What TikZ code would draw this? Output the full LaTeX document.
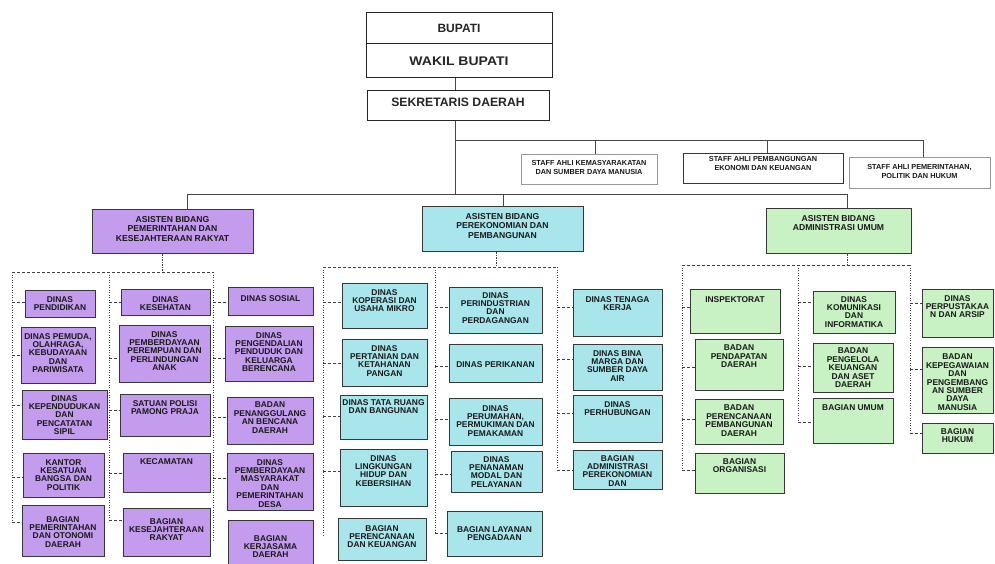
\documentclass[tikz,border=0pt]{standalone}
\usepackage{fontspec}
\setmainfont{Liberation Sans}
\newfontfamily\widefont[FakeStretch=1.12]{Liberation Sans}
\definecolor{purp}{RGB}{196,156,238}
\definecolor{cyn}{RGB}{168,230,236}
\definecolor{grn}{RGB}{200,242,196}
\definecolor{boxline}{RGB}{55,55,55}
\definecolor{treeline}{RGB}{70,70,70}
\tikzset{
  box/.style={draw=boxline, line width=1.2pt, inner sep=0pt, anchor=north west},
  pb/.style={box, fill=purp},
  cb/.style={box, fill=cyn},
  gb/.style={box, fill=grn},
  sboxl/.style={box, draw=black!40, fill=white, line width=0.9pt},
  sboxd/.style={box, draw=boxline, fill=white, line width=1pt},
  topbox/.style={draw=black!85, line width=1.4pt, fill=white, inner sep=0pt, anchor=north west},
  btext/.style={font=\bfseries\fontsize{8.4}{8.4}\selectfont, align=center, inner sep=0pt, anchor=north, text=black!90},
  atext/.style={font=\bfseries\fontsize{8.6}{9.6}\selectfont, align=center, inner sep=0pt, anchor=north, text=black!90},
  stext/.style={font=\bfseries\fontsize{7.3}{9.3}\selectfont, align=center, inner sep=0pt, anchor=north, text=black!90},
  tree/.style={draw=treeline, line width=0.9pt},
  grp/.style={draw=black!75, line width=0.8pt, dash pattern=on 3pt off 2pt},
  vgrp/.style={draw=black!75, line width=0.8pt, dash pattern=on 1.3pt off 1.2pt}
}
\newcommand\bx[9][btext]{%
  \node[#3, minimum width={(#6-#4)*1pt}, minimum height={(#7-#5)*1pt}] (#2) at (#4,#5) {};
  \node[#1] (#2t) at ({(#4+#6)/2},#8) {#9};
}
\newcommand\stub[3]{%
  \coordinate (#2y) at (0,#3);
  \coordinate (#2s) at (#2.west |- #2y);
  \draw[grp] (#1 |- #2s) -- (#2s);
}
\begin{document}
\begin{tikzpicture}[x=1pt,y=-1pt]
\useasboundingbox (0,0) rectangle (995,564);
\fill[white] (0,0) rectangle (995,564);

% top
\node[topbox, minimum width=186pt, minimum height=31pt] (bupati) at (366,12) {};
\node[font=\bfseries\fontsize{12}{12}\selectfont, text=black!85] (bupatit) at (459,28) {BUPATI};
\node[topbox, minimum width=186pt, minimum height=34pt] (wakil) at (366,43) {};
\node[font=\widefont\bfseries\fontsize{12.5}{12.5}\selectfont, text=black!85] (wakilt) at (459,61) {WAKIL BUPATI};
\node[topbox, minimum width=182pt, minimum height=30pt] (sek) at (367,90) {};
\node[font=\bfseries\fontsize{12.2}{12.2}\selectfont, text=black!85] (sekt) at (458,102) {SEKRETARIS DAERAH};

% staff ahli
\bx[stext]{st1}{sboxl}{521}{154}{657}{184}{160}{STAFF AHLI KEMASYARAKATAN\\DAN SUMBER DAYA MANUSIA}
\bx[stext]{st2}{sboxd}{683}{153}{843}{183}{156}{STAFF AHLI PEMBANGUNGAN\\EKONOMI DAN KEUANGAN}
\bx[stext]{st3}{sboxl}{849}{157}{990}{188}{164}{STAFF AHLI PEMERINTAHAN,\\POLITIK DAN HUKUM}

% asisten
\bx[atext]{ap}{pb}{92}{209}{253}{253}{216}{ASISTEN BIDANG\\PEMERINTAHAN DAN\\KESEJAHTERAAN RAKYAT}
\bx[atext]{ac}{cb}{422}{206}{583}{251}{213}{ASISTEN BIDANG\\PEREKONOMIAN DAN\\PEMBANGUNAN}
\bx[atext]{ag}{gb}{766}{208}{911}{253}{215}{ASISTEN BIDANG\\ADMINISTRASI UMUM}

% solid tree
\coordinate (k0) at (455,194);
\coordinate (s1) at (595,140);
\coordinate (s2) at (767,140);
\coordinate (s3) at (923,140);
\coordinate (a1) at (187,194);
\coordinate (a2) at (503,194);
\coordinate (a3) at (847,194);
\draw[tree] (wakil.south -| k0) -- (sek.north -| k0);
\draw[tree] (sek.south -| k0) -- (k0);
\draw[tree] (k0 |- s3) -- (s3) -- (st3.north -| s3);
\draw[tree] (s1) -- (st1.north -| s1);
\draw[tree] (s2) -- (st2.north -| s2);
\draw[tree] (a1) -- (a3);
\draw[tree] (a1) -- (ap.north -| a1);
\draw[tree] (a2) -- (ac.north -| a2);
\draw[tree] (a3) -- (ag.north -| a3);

% purple boxes
\bx{p11}{pb}{25}{290}{95}{317}{296}{DINAS\\PENDIDIKAN}
\bx{p12}{pb}{21}{327}{95}{383}{333}{DINAS PEMUDA,\\OLAHRAGA,\\KEBUDAYAAN\\DAN\\PARIWISATA}
\bx{p13}{pb}{22}{390}{107}{439}{395}{DINAS\\KEPENDUDUKAN\\DAN\\PENCATATAN\\SIPIL}
\bx{p14}{pb}{23}{453}{104}{497}{459}{KANTOR\\KESATUAN\\BANGSA DAN\\POLITIK}
\bx{p15}{pb}{22}{505}{104}{556}{516}{BAGIAN\\PEMERINTAHAN\\DAN OTONOMI\\DAERAH}
\bx{p21}{pb}{121}{289}{210}{315}{296}{DINAS\\KESEHATAN}
\bx{p22}{pb}{119}{325}{210}{382}{331}{DINAS\\PEMBERDAYAAN\\PEREMPUAN DAN\\PERLINDUNGAN\\ANAK}
\bx{p23}{pb}{120}{394}{210}{436}{400}{SATUAN POLISI\\PAMONG PRAJA}
\bx{p24}{pb}{123}{453}{210}{492}{458}{KECAMATAN}
\bx{p25}{pb}{123}{508}{210}{556}{518}{BAGIAN\\KESEJAHTERAAN\\RAKYAT}
\bx{p31}{pb}{228}{287}{313}{315}{295}{DINAS SOSIAL}
\bx{p32}{pb}{225}{326}{313}{381}{332}{DINAS\\PENGENDALIAN\\PENDUDUK DAN\\KELUARGA\\BERENCANA}
\bx{p33}{pb}{227}{397}{313}{444}{402}{BADAN\\PENANGGULANG\\AN BENCANA\\DAERAH}
\bx{p34}{pb}{227}{453}{313}{510}{459}{DINAS\\PEMBERDAYAAN\\MASYARAKAT\\DAN\\PEMERINTAHAN\\DESA}
\bx{p35}{pb}{228}{520}{313}{568}{535}{BAGIAN\\KERJASAMA\\DAERAH}

% cyan boxes
\bx{c11}{cb}{342}{283}{427}{328}{289}{DINAS\\KOPERASI DAN\\USAHA MIKRO}
\bx{c12}{cb}{342}{339}{427}{386}{345}{DINAS\\PERTANIAN DAN\\KETAHANAN\\PANGAN}
\bx{c13}{cb}{340}{395}{427}{439}{399}{DINAS TATA RUANG\\DAN BANGUNAN}
\bx{c14}{cb}{340}{449}{427}{506}{455}{DINAS\\LINGKUNGAN\\HIDUP DAN\\KEBERSIHAN}
\bx{c15}{cb}{338}{518}{426}{560}{525}{BAGIAN\\PERENCANAAN\\DAN KEUANGAN}
\bx{c21}{cb}{449}{287}{542}{333}{292}{DINAS\\PERINDUSTRIAN\\DAN\\PERDAGANGAN}
\bx{c22}{cb}{449}{344}{542}{382}{361}{DINAS PERIKANAN}
\bx{c23}{cb}{449}{398}{542}{445}{405}{DINAS\\PERUMAHAN,\\PERMUKIMAN DAN\\PEMAKAMAN}
\bx{c24}{cb}{451}{451}{542}{492}{456}{DINAS\\PENANAMAN\\MODAL DAN\\PELAYANAN}
\bx{c25}{cb}{447}{511}{542}{556}{526}{BAGIAN LAYANAN\\PENGADAAN}
\bx{c31}{cb}{573}{289}{662}{336}{296}{DINAS TENAGA\\KERJA}
\bx{c32}{cb}{573}{344}{662}{390}{350}{DINAS BINA\\MARGA DAN\\SUMBER DAYA\\AIR}
\bx{c33}{cb}{573}{395}{662}{442}{401}{DINAS\\PERHUBUNGAN}
\bx{c34}{cb}{573}{450}{662}{489}{455}{BAGIAN\\ADMINISTRASI\\PEREKONOMIAN\\DAN}

% green boxes
\bx{g11}{gb}{690}{289}{780}{333}{296}{INSPEKTORAT}
\bx{g12}{gb}{695}{339}{783}{390}{345}{BADAN\\PENDAPATAN\\DAERAH}
\bx{g13}{gb}{695}{399}{783}{444}{405}{BADAN\\PERENCANAAN\\PEMBANGUNAN\\DAERAH}
\bx{g14}{gb}{695}{453}{784}{493}{458}{BAGIAN\\ORGANISASI}
\bx{g21}{gb}{813}{291}{895}{333}{296}{DINAS\\KOMUNIKASI\\DAN\\INFORMATIKA}
\bx{g22}{gb}{813}{343}{893}{392}{348}{BADAN\\PENGELOLA\\KEUANGAN\\DAN ASET\\DAERAH}
\bx{g23}{gb}{813}{398}{893}{443}{404}{BAGIAN UMUM}
\bx{g31}{gb}{922}{289}{993}{337}{295}{DINAS\\PERPUSTAKAA\\N DAN ARSIP}
\bx{g32}{gb}{922}{347}{993}{413}{354}{BADAN\\KEPEGAWAIAN\\DAN\\PENGEMBANG\\AN SUMBER\\DAYA\\MANUSIA}
\bx{g33}{gb}{922}{423}{993}{453}{428}{BAGIAN\\HUKUM}

% purple group lines
\coordinate (v1) at (12,272);
\coordinate (v2) at (109,272);
\coordinate (v3) at (213,272);
\coordinate (d1) at (162,272);
\coordinate (v3e) at (213,542);
\draw[vgrp] (ap.south -| d1) -- (d1);
\draw[grp] (v1) -- (v3);
\stub{v1}{p11}{302} \stub{v1}{p12}{355} \stub{v1}{p13}{405} \stub{v1}{p14}{477} \stub{v1}{p15}{522}
\stub{v2}{p21}{302} \stub{v2}{p22}{358} \stub{v2}{p23}{410} \stub{v2}{p24}{473} \stub{v2}{p25}{520}
\stub{v3}{p31}{302} \stub{v3}{p32}{358} \stub{v3}{p33}{417} \stub{v3}{p34}{478}
\draw[vgrp] (v1) -- (v1 |- p15s);
\draw[vgrp] (v2) -- (v2 |- p25s);
\draw[vgrp] (v3) -- (v3e);

% cyan group lines
\coordinate (v4) at (323,267);
\coordinate (v5) at (435,267);
\coordinate (v6) at (557,267);
\coordinate (d2) at (496,267);
\coordinate (v4e) at (323,537);
\draw[vgrp] (ac.south -| d2) -- (d2);
\draw[grp] (v4) -- (v6);
\stub{v4}{c11}{302} \stub{v4}{c12}{363} \stub{v4}{c13}{416} \stub{v4}{c14}{471}
\stub{v5}{c21}{307} \stub{v5}{c22}{366} \stub{v5}{c23}{419} \stub{v5}{c24}{474} \stub{v5}{c25}{533}
\stub{v6}{c31}{307} \stub{v6}{c32}{359} \stub{v6}{c33}{413} \stub{v6}{c34}{470}
\draw[vgrp] (v4) -- (v4e);
\draw[vgrp] (v5) -- (v5 |- c25s);
\draw[vgrp] (v6) -- (v6 |- c34s);

% green group lines
\coordinate (v7) at (682,265);
\coordinate (v8) at (798,265);
\coordinate (v9) at (910,265);
\coordinate (d3) at (847,265);
\draw[vgrp] (ag.south -| d3) -- (d3);
\draw[grp] (v7) -- (v9);
\stub{v7}{g11}{307} \stub{v7}{g12}{367} \stub{v7}{g13}{419} \stub{v7}{g14}{470}
\stub{v8}{g21}{302} \stub{v8}{g22}{366} \stub{v8}{g23}{422}
\stub{v9}{g31}{303} \stub{v9}{g32}{369} \stub{v9}{g33}{433}
\draw[vgrp] (v7) -- (v7 |- g14s);
\draw[vgrp] (v8) -- (v8 |- g23s);
\draw[vgrp] (v9) -- (v9 |- g33s);
\end{tikzpicture}
\end{document}
